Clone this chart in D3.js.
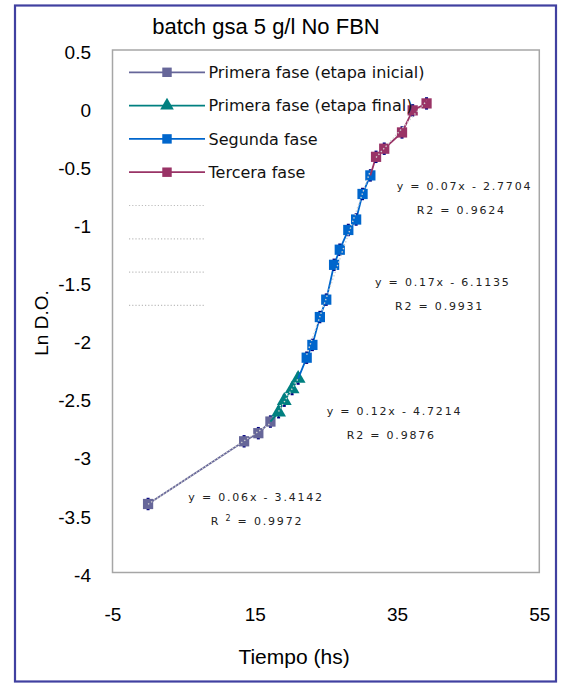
<!DOCTYPE html>
<html>
<head>
<meta charset="utf-8">
<script src="https://cdn.jsdelivr.net/npm/d3@7"></script>
<style>
  html, body { margin: 0; padding: 0; background: #fff; }
  svg { display: block; }
  text { fill: #000; }
</style>
</head>
<body>
<svg id="chart" width="563" height="684"></svg>
<script>
// Growth curve: Ln D.O. vs time, split into phases
const seriesNames = [
  "Primera fase (etapa inicial)",
  "Primera fase (etapa final)",
  "Segunda fase",
  "Tercera fase"
];
const tiempoInicial = [0, 13.5, 15.5, 17.2];
const lnInicial     = [-3.41, -2.87, -2.80, -2.70];
const tiempoFinal   = [18.35, 19.15, 20.25, 21.1];
const lnFinal       = [-2.62, -2.52, -2.42, -2.33];
const tiempoSegunda = [22.3, 23.1, 24.15, 25.05, 26.15, 26.95, 28.15, 29.25, 30.15, 31.25];
const lnSegunda     = [-2.15, -2.04, -1.80, -1.65, -1.35, -1.22, -1.05, -0.96, -0.74, -0.58];
const tiempoTercera = [32.05, 33.2, 35.7, 37.2, 39.15];
const lnTercera     = [-0.42, -0.35, -0.21, -0.02, 0.04];

const xTicks = [-5, 15, 35, 55];
const yTicks = [0.5, 0, -0.5, -1, -1.5, -2, -2.5, -3, -3.5, -4];
const errorBar = 0.045;

// Trendline equations printed on the chart (one per phase, last first)
const trendEquations = ["y = 0.07x - 2.7704", "y = 0.17x - 6.1135", "y = 0.12x - 4.7214", "y = 0.06x - 3.4142"];
const trendR2        = ["0.9624", "0.9931", "0.9876", "0.9972"];

const titleText = "batch gsa 5 g/l No FBN";
const xTitle = "Tiempo (hs)";
const yTitle = "Ln D.O.";

// ---- styles & layout ----
const colors  = ["#666699", "#008080", "#0066CC", "#993366"];
const symbols = [d3.symbolSquare, d3.symbolTriangle, d3.symbolSquare, d3.symbolSquare];
const symSize = [105, 95, 105, 105];

const plot = { left: 112.5, right: 539.3, top: 50, bottom: 572.5 };
const svg = d3.select("#chart");

const x = d3.scaleLinear().domain([-5, 55]).range([plot.left, plot.right]);
const y = d3.scaleLinear().domain([-4, 0.5]).range([plot.bottom, plot.top]);
const plain = d => String(d);   // ASCII hyphen for negatives

// outer frame
svg.append("rect")
  .attr("x", 15).attr("y", 5.5).attr("width", 541).attr("height", 676)
  .attr("fill", "#fff").attr("stroke", "#4040A0").attr("stroke-width", 2.2);

// plot area
svg.append("rect")
  .attr("x", plot.left).attr("y", plot.top)
  .attr("width", plot.right - plot.left).attr("height", plot.bottom - plot.top)
  .attr("fill", "#fff").attr("stroke", "#A6A6A6").attr("stroke-width", 1.5);

// title
svg.append("text")
  .attr("x", 266).attr("y", 34)
  .attr("text-anchor", "middle")
  .style("font-family", "'Liberation Sans', Arial, sans-serif")
  .style("font-size", "22px")
  .text(titleText);

// axes (labels only)
const fontAxis = "'Liberation Sans', Arial, sans-serif";
const yAxis = svg.append("g")
  .attr("transform", `translate(${plot.left},0)`)
  .call(d3.axisLeft(y).tickValues(yTicks).tickSize(0).tickPadding(21.5).tickFormat(plain));
yAxis.select(".domain").remove();
yAxis.selectAll("text")
  .style("font-family", fontAxis).style("font-size", "19px")
  .attr("dy", "0.45em");

const xAxis = svg.append("g")
  .attr("transform", `translate(0,${plot.bottom})`)
  .call(d3.axisBottom(x).tickValues(xTicks).tickSize(0).tickPadding(35.5).tickFormat(plain));
xAxis.select(".domain").remove();
xAxis.selectAll("text")
  .style("font-family", fontAxis).style("font-size", "19px");

svg.append("text")
  .attr("x", 294).attr("y", 664)
  .attr("text-anchor", "middle")
  .style("font-family", fontAxis).style("font-size", "21px")
  .text(xTitle);

svg.append("text")
  .attr("transform", "translate(48,323) rotate(-90)")
  .attr("text-anchor", "middle")
  .style("font-family", fontAxis).style("font-size", "19px")
  .text(yTitle);

// ---- series ----
const xs = [tiempoInicial, tiempoFinal, tiempoSegunda, tiempoTercera];
const ys = [lnInicial, lnFinal, lnSegunda, lnTercera];
const series = xs.map((tx, i) => tx.map((t, j) => ({ t, v: ys[i][j] })));

const line = d3.line().x(d => x(d.t)).y(d => y(d.v));
const gSeries = svg.append("g");

series.forEach((pts, i) => {
  const g = gSeries.append("g");
  // join to previous phase's last point
  const path = i > 0 ? [series[i - 1][series[i - 1].length - 1]].concat(pts) : pts;
  g.append("path")
    .attr("d", line(path))
    .attr("fill", "none").attr("stroke", colors[i]).attr("stroke-width", 1.8);

  // error bars
  const eb = g.selectAll(".eb").data(pts).join("g");
  eb.append("line")
    .attr("x1", d => x(d.t)).attr("x2", d => x(d.t))
    .attr("y1", d => y(d.v + errorBar)).attr("y2", d => y(d.v - errorBar))
    .attr("stroke", "#000080").attr("stroke-width", 1.2);
  [errorBar, -errorBar].forEach(e => {
    eb.append("line")
      .attr("x1", d => x(d.t) - 1.5).attr("x2", d => x(d.t) + 1.5)
      .attr("y1", d => y(d.v + e)).attr("y2", d => y(d.v + e))
      .attr("stroke", "#000080").attr("stroke-width", 2);
  });

  g.selectAll(".m").data(pts).join("path")
    .attr("transform", d => `translate(${x(d.t)},${y(d.v)})`)
    .attr("d", d3.symbol().type(symbols[i]).size(symSize[i]))
    .attr("fill", colors[i]);
});

// linear trendlines (least squares) on top of the markers
series.forEach(pts => {
  const mx = d3.mean(pts, d => d.t), my = d3.mean(pts, d => d.v);
  const sxy = d3.sum(pts, d => (d.t - mx) * (d.v - my));
  const sxx = d3.sum(pts, d => (d.t - mx) ** 2);
  const b = sxy / sxx, a = my - b * mx;
  const [t0, t1] = d3.extent(pts, d => d.t);
  svg.append("line")
    .attr("x1", x(t0)).attr("y1", y(a + b * t0))
    .attr("x2", x(t1)).attr("y2", y(a + b * t1))
    .attr("stroke", "#D0D0D0").attr("stroke-width", 1.4)
    .attr("stroke-dasharray", "1.4,2.2");
});

// equation labels
const eqFont = "'DejaVu Sans', Verdana, sans-serif";
const eqPos = [[396.7, 189.5], [375, 285.5], [326.7, 414.5], [188.3, 500.5]];
const r2Pos = [[416.7, 214], [395, 309.5], [346.7, 439], [210.7, 524.5]];
trendEquations.forEach((eq, i) => {
  svg.append("text")
    .attr("x", eqPos[i][0]).attr("y", eqPos[i][1])
    .style("font-family", eqFont).style("font-size", "11px")
    .style("letter-spacing", "1.8px").style("fill", "#222")
    .text(eq);
  const t = svg.append("text")
    .attr("x", r2Pos[i][0]).attr("y", r2Pos[i][1])
    .style("font-family", eqFont).style("font-size", "11px")
    .style("letter-spacing", "1.8px").style("fill", "#222");
  if (i === 3) {
    t.append("tspan").text("R ");
    t.append("tspan").attr("dy", -4).style("font-size", "8px").text("2");
    t.append("tspan").attr("dy", 4).text(" = " + trendR2[i]);
  } else {
    t.text("R2 = " + trendR2[i]);
  }
});

// legend
const legend = svg.append("g");
const rowY = d3.range(8).map(k => 72.3 + k * 33.3);
seriesNames.forEach((name, i) => {
  const yy = rowY[i];
  legend.append("line")
    .attr("x1", 129).attr("x2", 205).attr("y1", yy).attr("y2", yy)
    .attr("stroke", colors[i]).attr("stroke-width", 1.8);
  legend.append("path")
    .attr("transform", `translate(167,${yy})`)
    .attr("d", d3.symbol().type(symbols[i]).size(symSize[i] * 0.85))
    .attr("fill", colors[i]);
  legend.append("text")
    .attr("x", 208.5).attr("y", yy + 5.8)
    .style("font-family", eqFont).style("font-size", "16px")
    .style("fill", "#111")
    .text(name);
});
// trendline legend keys
d3.range(4).forEach(k => {
  const yy = rowY[4 + k];
  legend.append("line")
    .attr("x1", 129).attr("x2", 205).attr("y1", yy).attr("y2", yy)
    .attr("stroke", "#BDBDBD").attr("stroke-width", 1.2)
    .attr("stroke-dasharray", "1.2,2");
});
</script>
</body>
</html>
